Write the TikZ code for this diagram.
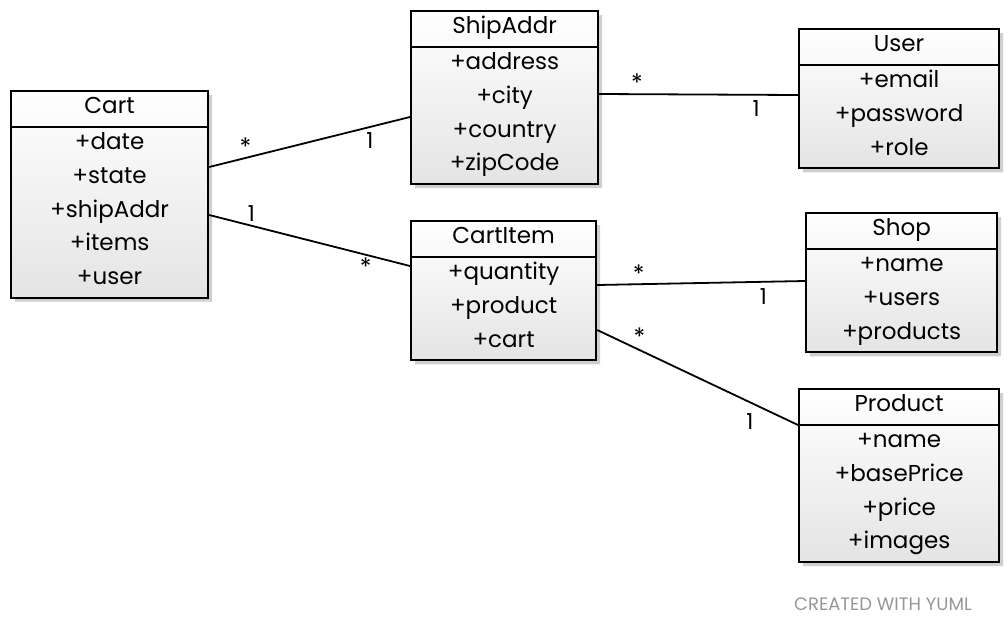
\documentclass[tikz,border=0pt]{standalone}
\usepackage{fontspec}
\setmainfont{Poppins}
\definecolor{yumlgray}{RGB}{228,228,228}
\definecolor{yumlshadow}{RGB}{175,175,175}
\definecolor{yumlcredit}{RGB}{150,150,150}
\newcommand{\rowstrut}{\rule[-12pt]{0pt}{33.7pt}}
\usetikzlibrary{calc}
\usetikzlibrary{positioning}
\usetikzlibrary{shapes.multipart,shadows}
\tikzset{
  umlclass/.style={rectangle split, rectangle split parts=2, draw, line width=2.2pt,
    top color=white, bottom color=yumlgray, anchor=north west, align=center,
    inner xsep=0pt, inner ysep=0pt, font=\fontsize{23}{33.7}\selectfont,
    drop shadow={shadow xshift=4pt, shadow yshift=-4pt, fill=yumlshadow, opacity=.6}},
  assoc/.style={line width=1.8pt},
  mult/.style={font=\fontsize{24}{26}\selectfont, inner sep=0pt},
  multone/.style={font=\fontsize{22}{24}\selectfont, inner sep=0pt},
  credit/.style={font=\fontsize{18}{20}\selectfont, text=yumlcredit}
}

\begin{document}
\begin{tikzpicture}[x=1pt, y=-1pt]
  \useasboundingbox (0,0) rectangle (1008,632);

  % classes
  \node [umlclass, text width=197pt] (cart) at (10,90)
    {\rowstrut Cart\nodepart{second}\rowstrut+date\\+state\\+shipAddr\\+items\\+user\rowstrut};
  \node [umlclass, text width=187pt] (shipaddr) at (410,10)
    {\rowstrut ShipAddr\nodepart{second}\rowstrut+address\\+city\\+country\\+zipCode\rowstrut};
  \node [umlclass, text width=200pt] (user) at (798,28)
    {\rowstrut User\nodepart{second}\rowstrut+email\\+password\\+role\rowstrut};
  \node [umlclass, text width=185pt] (cartitem) at (410,220)
    {\rowstrut CartItem\nodepart{second}\rowstrut+quantity\\+product\\+cart\rowstrut};
  \node [umlclass, text width=191pt] (shop) at (805,212)
    {\rowstrut Shop\nodepart{second}\rowstrut+name\\+users\\+products\rowstrut};
  \node [umlclass, text width=200pt] (product) at (798,388)
    {\rowstrut Product\nodepart{second}\rowstrut+name\\+basePrice\\+price\\+images\rowstrut};

  % associations
  \draw [assoc] ($(cart.north east)+(0,77)$) --
    node [mult, pos=.18, above=2pt] (cartshipstar) {*}
    node [multone, pos=.8, below=5pt] (cartshipone) {1}
    ($(shipaddr.north west)+(0,107)$);
  \draw [assoc] ($(cart.north east)+(0,125)$) --
    node [multone, pos=.21, above=3pt] (cartitemone) {1}
    node [mult, pos=.78, below=2pt] (cartitemstar) {*}
    ($(cartitem.north west)+(0,46)$);
  \draw [assoc] ($(shipaddr.north east)+(0,84)$) --
    node [mult, pos=.19, above=2pt] (shipuserstar) {*}
    node [multone, pos=.79, below=5pt] (shipuserone) {1}
    ($(user.north west)+(0,67)$);
  \draw [assoc] ($(cartitem.north east)+(0,65)$) --
    node [mult, pos=.2, above=1pt] (itemshopstar) {*}
    node [multone, pos=.8, below=6pt] (itemshopone) {1}
    ($(shop.north west)+(0,69)$);
  \draw [assoc] ($(cartitem.north east)+(0,110)$) --
    node [mult, pos=.21, above=4pt] (itemprodstar) {*}
    node [multone, pos=.76, below=10pt] (itemprodone) {1}
    ($(product.north west)+(0,37)$);

  \node [credit] (yuml) at (883,604) {CREATED WITH YUML};
\end{tikzpicture}
\end{document}
